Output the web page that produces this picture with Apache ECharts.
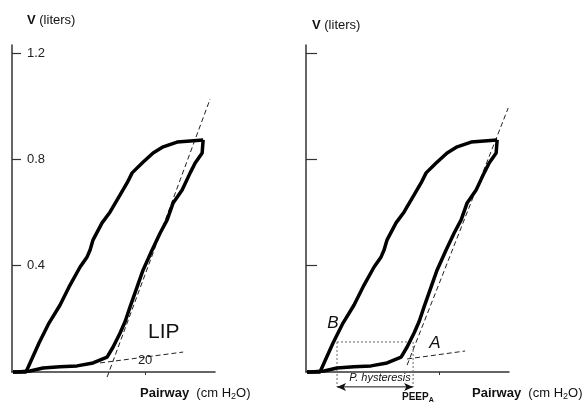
<!DOCTYPE html>
<html>
<head>
<meta charset="utf-8">
<script src="https://cdn.jsdelivr.net/npm/echarts@6/dist/echarts.min.js"></script>
<style>
  html, body { margin: 0; padding: 0; background: #fff; }
  #chart { width: 583px; height: 402px; }
</style>
</head>
<body>
<div id="chart"></div>
<script>
  // data: pressure in cm H2O, volume in liters
  var inflationP = [0.15, 0.75, 2.71, 4.66, 7.2, 9.77, 12.18, 14.29, 15.19, 16.24, 17.0, 17.74, 18.8, 19.7, 21.05, 22.26, 23.31, 24.21, 25.56, 26.77, 27.52, 28.57, 28.72];
  var inflationV = [0, 0, 0.004, 0.015, 0.02, 0.023, 0.034, 0.056, 0.094, 0.147, 0.19, 0.245, 0.32, 0.384, 0.459, 0.523, 0.572, 0.636, 0.685, 0.749, 0.786, 0.824, 0.873];

  var deflationP = [28.72, 24.81, 22.71, 21.2, 19.55, 18.05, 17.29, 16.24, 14.74, 13.53, 12.18, 11.73, 11.28, 10.23, 8.57, 7.22, 5.56, 4.06, 2.71, 2.11, 0.15];
  var deflationV = [0.873, 0.865, 0.847, 0.824, 0.786, 0.749, 0.711, 0.666, 0.602, 0.561, 0.497, 0.459, 0.433, 0.395, 0.32, 0.252, 0.184, 0.109, 0.034, 0, 0];

  // dashed tangents (left panel / right panel)
  var leftSteepP = [14.29, 29.77];
  var leftSteepV = [-0.019, 1.027];
  var leftFlatP = [13.23, 25.71];
  var leftFlatV = [0.034, 0.075];
  var rightSteepP = [15.19, 30.38];
  var rightSteepV = [0.026, 0.993];
  var rightFlatP = [15.19, 23.91];
  var rightFlatV = [0.049, 0.079];

  // hysteresis box B -> A and the PEEP arrow
  var hystP = [4.66, 16.09];
  var hystV = 0.113;
  var hystBottomV = -0.056;

  var volTicks = [0.4, 0.8, 1.2];
  var presTicks = [20];

  var pairs = function (xs, ys) {
    return xs.map(function (x, i) { return [x, ys[i]]; });
  };

  var font = '"Liberation Sans", Arial, sans-serif';
  var curve = { color: '#000', width: 3.5 };
  var dash = { color: '#222', width: 1, type: [5, 3] };
  var dot = { color: '#666', width: 1, type: [2, 2] };

  var makeX = function (idx, left) {
    return {
      type: 'value', gridIndex: idx, min: 0, max: 30.5,
      axisLine: { lineStyle: { color: '#333', width: 1.5 } },
      axisTick: { customValues: presTicks, length: 3, lineStyle: { color: '#333' } },
      axisLabel: {
        show: left, inside: true, customValues: presTicks, margin: 5,
        color: '#222', fontSize: 13, fontFamily: font
      },
      splitLine: { show: false }
    };
  };
  var makeY = function (idx, left) {
    return {
      type: 'value', gridIndex: idx, min: 0, max: 1.23,
      axisLine: { show: true, lineStyle: { color: '#333', width: 1.5 } },
      axisTick: { inside: true, customValues: volTicks, length: left ? 9 : 11, lineStyle: { color: '#333', width: 1.2 } },
      axisLabel: {
        show: left, inside: true, customValues: volTicks, margin: 15,
        color: '#222', fontSize: 13, fontFamily: font
      },
      splitLine: { show: false }
    };
  };

  var line = function (idx, data, style) {
    return {
      type: 'line', xAxisIndex: idx, yAxisIndex: idx, data: data,
      showSymbol: false, symbol: 'none', clip: false, silent: true,
      lineStyle: style, z: style === curve ? 3 : 2
    };
  };

  var series = [];
  [0, 1].forEach(function (i) {
    series.push(line(i, pairs(inflationP, inflationV), curve));
    series.push(line(i, pairs(deflationP, deflationV), curve));
  });
  series.push(line(0, pairs(leftSteepP, leftSteepV), dash));
  series.push(line(0, pairs(leftFlatP, leftFlatV), dash));
  series.push(line(1, pairs(rightSteepP, rightSteepV), dash));
  series.push(line(1, pairs(rightFlatP, rightFlatV), dash));
  series.push(line(1, [[hystP[0], hystV], [hystP[1], hystV]], dot));
  series.push(line(1, [[hystP[0], hystV], [hystP[0], hystBottomV]], dot));
  series.push(line(1, [[hystP[1], hystV], [hystP[1], hystBottomV]], dot));

  // double-headed arrow below the axis
  var arrow = line(1, [
    { value: [hystP[0], hystBottomV], symbol: 'arrow', symbolRotate: 90 },
    { value: [hystP[1], hystBottomV], symbol: 'arrow', symbolRotate: -90 }
  ], { color: '#111', width: 1 });
  arrow.showSymbol = true;
  arrow.symbolSize = [6, 9];
  arrow.itemStyle = { color: '#111' };
  series.push(arrow);

  var txt = function (x, y, text, size, extra) {
    var st = {
      text: text, x: x, y: y, fill: '#111',
      font: (extra && extra.font) || ('normal ' + size + 'px ' + font),
      textAlign: (extra && extra.align) || 'left', textVerticalAlign: 'middle',
      align: (extra && extra.align) || 'left', verticalAlign: 'middle'
    };
    if (extra && extra.rich) st.rich = extra.rich;
    return { type: 'text', style: st };
  };
  var rich = {
    b: { fontWeight: 'bold', fontSize: 13, fontFamily: font, fill: '#111' },
    n: { fontSize: 13, fontFamily: font, fill: '#111' },
    s: { fontSize: 9, fontFamily: font, fill: '#111', padding: [7, 0, 0, 0] }
  };
  var richSmall = {
    b: { fontWeight: 'bold', fontSize: 10, fontFamily: font, fill: '#111' },
    s: { fontWeight: 'bold', fontSize: 7, fontFamily: font, fill: '#111', padding: [6, 0, 0, 0] }
  };

  var myChart = echarts.init(document.getElementById('chart'), null, { renderer: 'canvas' });
  myChart.setOption({
    animation: false,
    backgroundColor: '#fff',
    grid: [
      { left: 12, top: 45, width: 203, height: 327 },
      { left: 306, top: 45, width: 203, height: 327 }
    ],
    xAxis: [makeX(0, true), makeX(1, false)],
    yAxis: [makeY(0, true), makeY(1, false)],
    series: series,
    graphic: [
      txt(27, 20, '{b|V}{n| (liters)}', 13, { rich: rich }),
      txt(312, 25, '{b|V}{n| (liters)}', 13, { rich: rich }),
      txt(140, 393, '{b|Pairway}{n|  (cm H}{s|2}{n|O)}', 13, { rich: rich }),
      txt(472, 393, '{b|Pairway}{n|  (cm H}{s|2}{n|O)}', 13, { rich: rich }),
      txt(148, 332, 'LIP', 21),
      txt(333, 323, 'B', 17, { align: 'center', font: 'italic 17px ' + font }),
      txt(435, 343, 'A', 17, { align: 'center', font: 'italic 17px ' + font }),
      txt(380, 378, 'P. hysteresis', 11, { align: 'center', font: 'italic 11px ' + font }),
      txt(402, 397, '{b|PEEP}{s|A}', 10, { rich: richSmall })
    ]
  });
</script>
</body>
</html>
